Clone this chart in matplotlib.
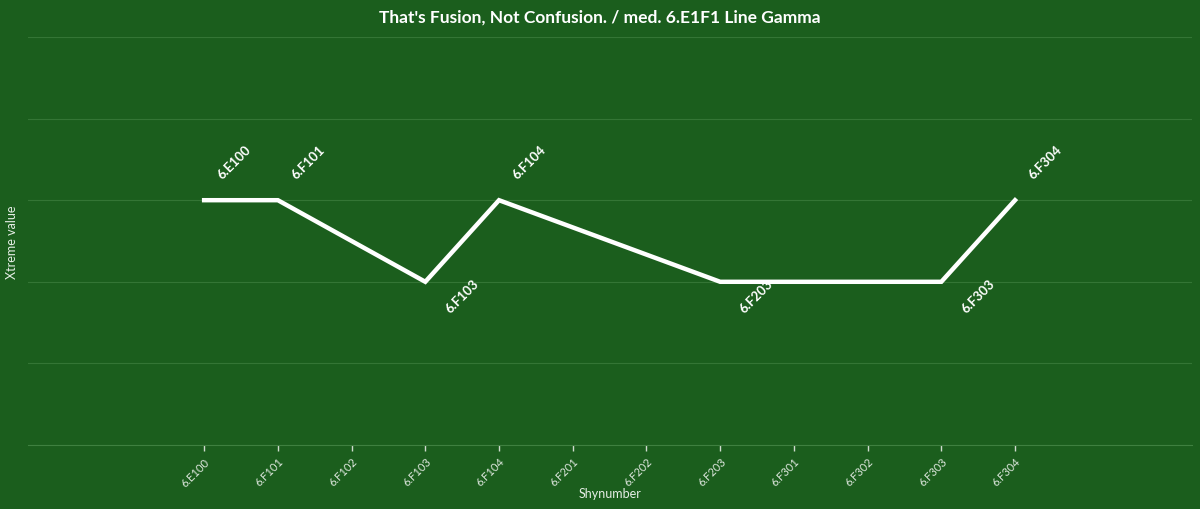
import numpy as np
import matplotlib.pyplot as plt

plt.rcParams['font.family'] = ['Lato', 'DejaVu Sans']

# Data
categories = ['6.E100', '6.F101', '6.F102', '6.F103', '6.F104', '6.F201',
              '6.F202', '6.F203', '6.F301', '6.F302', '6.F303', '6.F304']
values = [3, 3, None, 2, 3, None, None, 2, None, None, 2, 3]

bg = '#1b5e1d'
grid_col = '#347535'

fig = plt.figure(figsize=(12, 5.1), dpi=100, facecolor=bg)
ax = fig.add_axes([0.0233, 0.1255, 0.97, 0.80])
ax.set_facecolor(bg)

# only categories that have a value are joined by the line
idx = [i for i, v in enumerate(values) if v is not None]
vals = [values[i] for i in idx]
ax.plot(idx, vals, color='white', linewidth=3.2, solid_joinstyle='miter', zorder=3)

for i, v in zip(idx, vals):
    if v >= 3:
        off = (16, 24)
    else:
        off = (22, -28)
    ax.annotate(categories[i], (i, v), xytext=off, textcoords='offset pixels',
                rotation=45, rotation_mode='anchor', ha='left', va='center',
                color='white', fontsize=9.5, fontweight='bold')

ax.set_xlim(-2.39, 13.4)
ax.set_ylim(0, 5)
ax.set_xticks(range(len(categories)))
ax.set_xticklabels(categories, rotation=45, ha='right', rotation_mode='anchor',
                   color='#dfe8df', fontsize=8)
ax.set_yticks(range(0, 6))
ax.set_yticklabels([])
ax.tick_params(axis='y', length=0)
ax.tick_params(axis='x', length=4, color='#cfdccf', width=1)
ax.grid(axis='y', color=grid_col, linewidth=0.8)
ax.set_axisbelow(True)
for s in ['top', 'right', 'left']:
    ax.spines[s].set_visible(False)
ax.spines['bottom'].set_color('#3f8040')

ax.set_xlabel('Shynumber', color='#e6eee6', fontsize=9)
ax.xaxis.set_label_coords(0.5, -0.118)
ax.set_ylabel('Xtreme value', color='#e6eee6', fontsize=9)
ax.yaxis.set_label_coords(-0.0137, 0.5)
ax.xaxis.label.set_va('center')
ax.yaxis.label.set_va('center')
fig.text(0.5, 0.965, "That's Fusion, Not Confusion. / med. 6.E1F1 Line Gamma",
         ha='center', va='center', color='white', fontsize=12.5, fontweight='bold')

fig.savefig('out.png', dpi=100, facecolor=bg)
